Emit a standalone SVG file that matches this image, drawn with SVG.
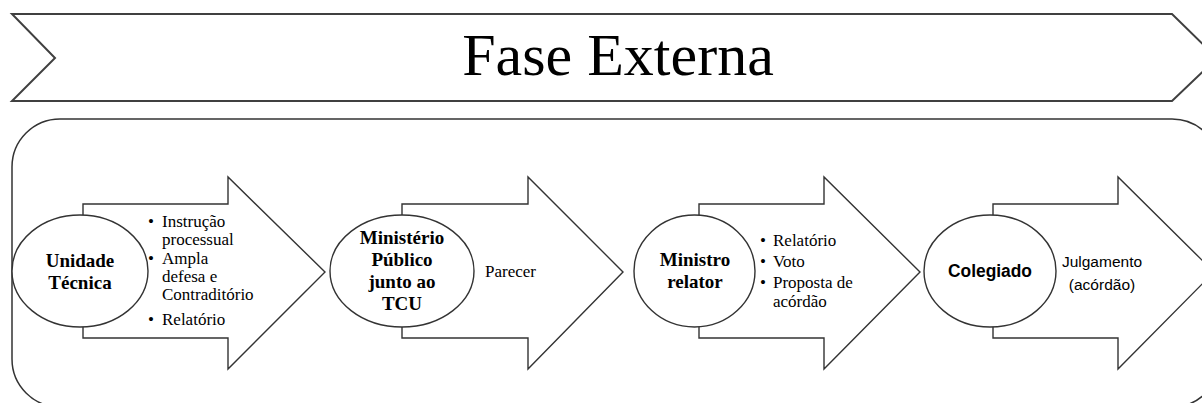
<svg xmlns="http://www.w3.org/2000/svg" width="1202" height="403" viewBox="0 0 1202 403">
<style>
.arrow{fill:#fff;stroke:#333;stroke-width:1.4}
.ell{fill:#fff;stroke:#333;stroke-width:1.4}
.nb{font-family:"Liberation Serif","Times New Roman",serif;font-weight:bold;font-size:19px;fill:#000;text-anchor:middle}
.tx{font-family:"Liberation Serif","Times New Roman",serif;font-size:17px;fill:#000}
.sb{font-family:"Liberation Sans",Arial,sans-serif;font-weight:bold;font-size:18px;fill:#000;text-anchor:middle}
.st{font-family:"Liberation Sans",Arial,sans-serif;font-size:15.5px;fill:#000;text-anchor:middle}
</style>
<rect width="1202" height="403" fill="#fff"/>
<g id="banner">
<polygon points="12,14 1172,14 1217,58 1172,101 12,101 55,58" fill="#fff" stroke="#404040" stroke-width="2"/>
<text x="618" y="75" font-family="'Liberation Serif','Times New Roman',serif" font-size="60" text-anchor="middle" fill="#000">Fase Externa</text>
</g>
<g id="container">
<rect x="12" y="119" width="1208" height="288" rx="48" ry="48" fill="none" stroke="#333" stroke-width="1.5"/>
</g>
<g id="connectors">
<polygon class="arrow" points="83,204 228,204 228,177 325,272 228,369 228,338 83,338"/>
<polygon class="arrow" points="402,204 528,204 528,177 623,272 528,369 528,338 402,338"/>
<polygon class="arrow" points="699,204 824,204 824,177 920,272 824,369 824,338 699,338"/>
<polygon class="arrow" points="993,204 1118,204 1118,177 1214,272 1118,369 1118,338 993,338"/>
</g>
<g id="step1-text">
<text class="tx" x="148" y="227">•</text><text class="tx" x="162" y="227">Instrução</text>
<text class="tx" x="162" y="245">processual</text>
<text class="tx" x="148" y="264">•</text><text class="tx" x="162" y="264">Ampla</text>
<text class="tx" x="162" y="282">defesa e</text>
<text class="tx" x="162" y="300">Contraditório</text>
<text class="tx" x="148" y="325">•</text><text class="tx" x="162" y="325">Relatório</text>
</g>
<g id="node-unidade">
<ellipse class="ell" cx="80" cy="271" rx="68" ry="56"/>
<text class="nb" x="80" y="267">Unidade</text>
<text class="nb" x="80" y="289">Técnica</text>
</g>
<g id="step2-text">
<text class="tx" x="485" y="277">Parecer</text>
</g>
<g id="node-mp">
<ellipse class="ell" cx="402" cy="271" rx="72" ry="56"/>
<text class="nb" x="402" y="244">Ministério</text>
<text class="nb" x="402" y="266">Público</text>
<text class="nb" x="402" y="288">junto ao</text>
<text class="nb" x="402" y="310">TCU</text>
</g>
<g id="step3-text">
<text class="tx" x="760" y="246">•</text><text class="tx" x="773" y="246">Relatório</text>
<text class="tx" x="760" y="267">•</text><text class="tx" x="773" y="267">Voto</text>
<text class="tx" x="760" y="288">•</text><text class="tx" x="773" y="288">Proposta de</text>
<text class="tx" x="773" y="307">acórdão</text>
</g>
<g id="node-ministro">
<ellipse class="ell" cx="694.5" cy="271" rx="60.5" ry="56"/>
<text class="nb" x="695" y="266">Ministro</text>
<text class="nb" x="695" y="288">relator</text>
</g>
<g id="step4-text">
<text class="st" x="1102" y="267">Julgamento</text>
<text class="st" x="1102" y="290">(acórdão)</text>
</g>
<g id="node-colegiado">
<ellipse class="ell" cx="990" cy="271" rx="66" ry="56"/>
<text class="sb" x="990" y="277" textLength="84" lengthAdjust="spacingAndGlyphs">Colegiado</text>
</g>
</svg>
